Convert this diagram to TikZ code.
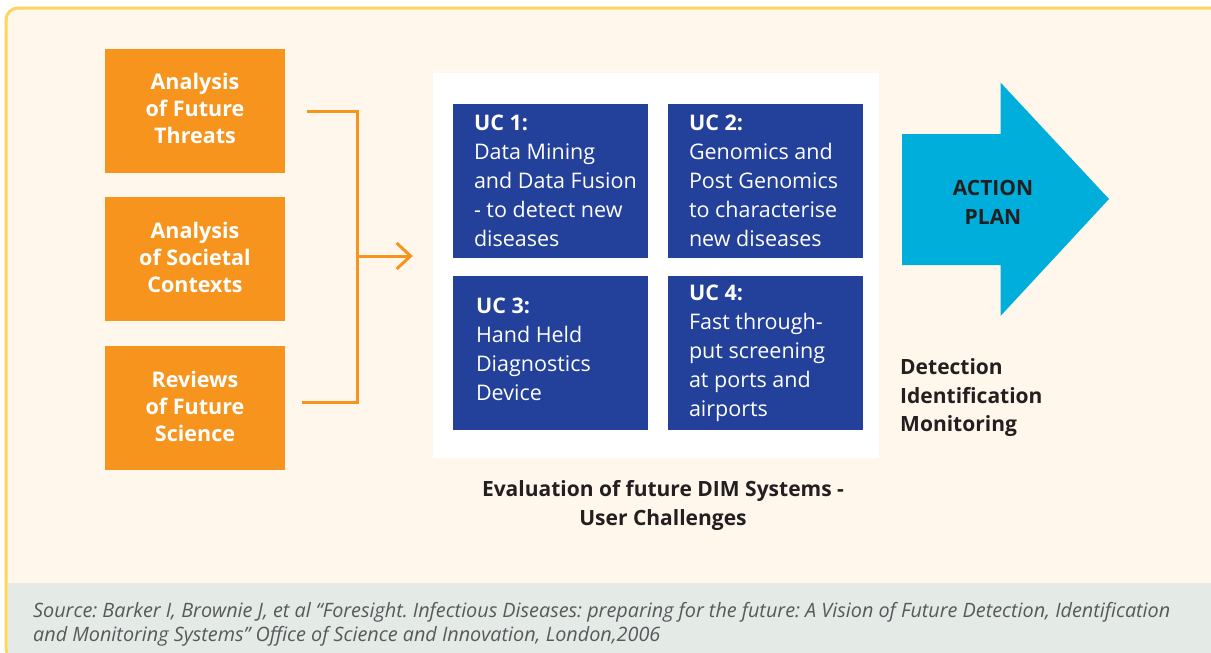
\documentclass[tikz,border=0pt]{standalone}
\usepackage{fontspec}
\setmainfont{Open Sans}
\usepackage{tikz}
\usetikzlibrary{calc}
\usetikzlibrary{arrows.meta}
\usetikzlibrary{positioning}
\definecolor{cream}{HTML}{FFF7EC}
\definecolor{framey}{HTML}{FFD55C}
\definecolor{bandgrey}{HTML}{E4EAE6}
\definecolor{orng}{HTML}{F7941D}
\definecolor{ucblue}{HTML}{23409A}
\definecolor{plancyan}{HTML}{00AEDB}
\definecolor{ink}{HTML}{231F20}
\definecolor{srcgrey}{HTML}{58595B}
\frenchspacing
\tikzset{>=latex}
\tikzstyle{input} = [rectangle, fill=orng, draw=none, minimum width=180, minimum height=124, text=white, align=center, font=\fontsize{21.5}{27}\selectfont\bfseries]
\tikzstyle{intext} = [draw=none, inner sep=0, text=white, align=center, font=\fontsize{21.5}{27}\selectfont\bfseries]
\tikzstyle{ucbox} = [rectangle, fill=ucblue, draw=none, minimum width=195, minimum height=154]
\tikzstyle{uctext} = [draw=none, anchor=west, inner sep=0, text=white, align=left, font=\fontsize{21.5}{29}\selectfont]
\tikzstyle{caption} = [draw=none, inner sep=0, text=ink, font=\fontsize{21}{28.5}\selectfont\bfseries]
\tikzstyle{bracket} = [-, draw=orng, line width=3, line join=miter]

\begin{document}
\begin{tikzpicture}[x=1pt, y=-1pt]
\useasboundingbox (0,0) rectangle (1211,653);
%\node [draw=none] at (600,20) {background};
\fill [white] (0,0) rectangle (1211,653);
\draw [draw=framey, line width=3, fill=cream, rounded corners=12] (6,8) rectangle (1240,660);
\fill [bandgrey] (7.5,583) rectangle (1240,660);
\node [input] (threats) at (195,111) {};
\node [input] (contexts) at (195,259) {};
\node [input] (science) at (195,408) {};
\node [intext] (threatst) at ([yshift=2.5]threats.center) {Analysis\\of Future\\Threats};
\node [intext] (contextst) at ([yshift=2]contexts.center) {Analysis\\of Societal\\Contexts};
\node [intext] (sciencet) at ([yshift=2]science.center) {Reviews\\of Future\\Science};
\node [rectangle, fill=white, draw=none, minimum width=446, minimum height=385] (panel) at (656,265.5) {};
\node [ucbox] (uc1) at (550.5,181) {};
\node [ucbox] (uc2) at (765.5,181) {};
\node [ucbox] (uc3) at (550.5,353) {};
\node [ucbox] (uc4) at (765.5,353) {};
\node [uctext] (uc1t) at ([xshift=21]uc1.west) {\textbf{UC 1:}\\Data Mining\\and Data Fusion\\- to detect new\\diseases};
\node [uctext] (uc2t) at ([xshift=21]uc2.west) {\textbf{UC 2:}\\Genomics and\\Post Genomics\\to characterise\\new diseases};
\node [uctext] (uc3t) at ([xshift=23,yshift=4]uc3.west) {\textbf{UC 3:}\\Hand Held\\Diagnostics\\Device};
\node [uctext] (uc4t) at ([xshift=21]uc4.west) {\textbf{UC 4:}\\Fast through-\\put screening\\at ports and\\airports};
\coordinate (b1) at (307,111);
\coordinate (b2) at (302,402);
\coordinate (bj) at (357,256);
\draw [bracket] (b1) -| (bj) |- (b2);
\draw [bracket, -{Straight Barb[length=14, width=26, line width=3]}, shorten >=20] (bj) -- (bj -| panel.west);
\fill [plancyan] (902,134) -- (1000.5,134) -- (1000.5,82.5) -- (1109,199) -- (1000.5,316) -- (1000.5,265) -- (902,265) -- cycle;
\node [caption, align=center] (plan) at (993,202.5) {ACTION\\PLAN};
\node [caption, align=left, anchor=west] (dim) at (900,398) {Detection\\Identification\\Monitoring};
\node [caption, align=center] (eval) at (663,505.5) {Evaluation of future DIM Systems -\\User Challenges};
\node [draw=none, inner sep=0, anchor=base west, align=left, text=srcgrey, font=\fontsize{19.8}{24}\selectfont\itshape] (source) at (33,641) {Source: Barker I, Brownie J, et al ``Foresight. Infectious Diseases: preparing for the future: A Vision of Future Detection, Identification\\and Monitoring Systems'' Office of Science and Innovation, London,2006};
\end{tikzpicture}
\end{document}
